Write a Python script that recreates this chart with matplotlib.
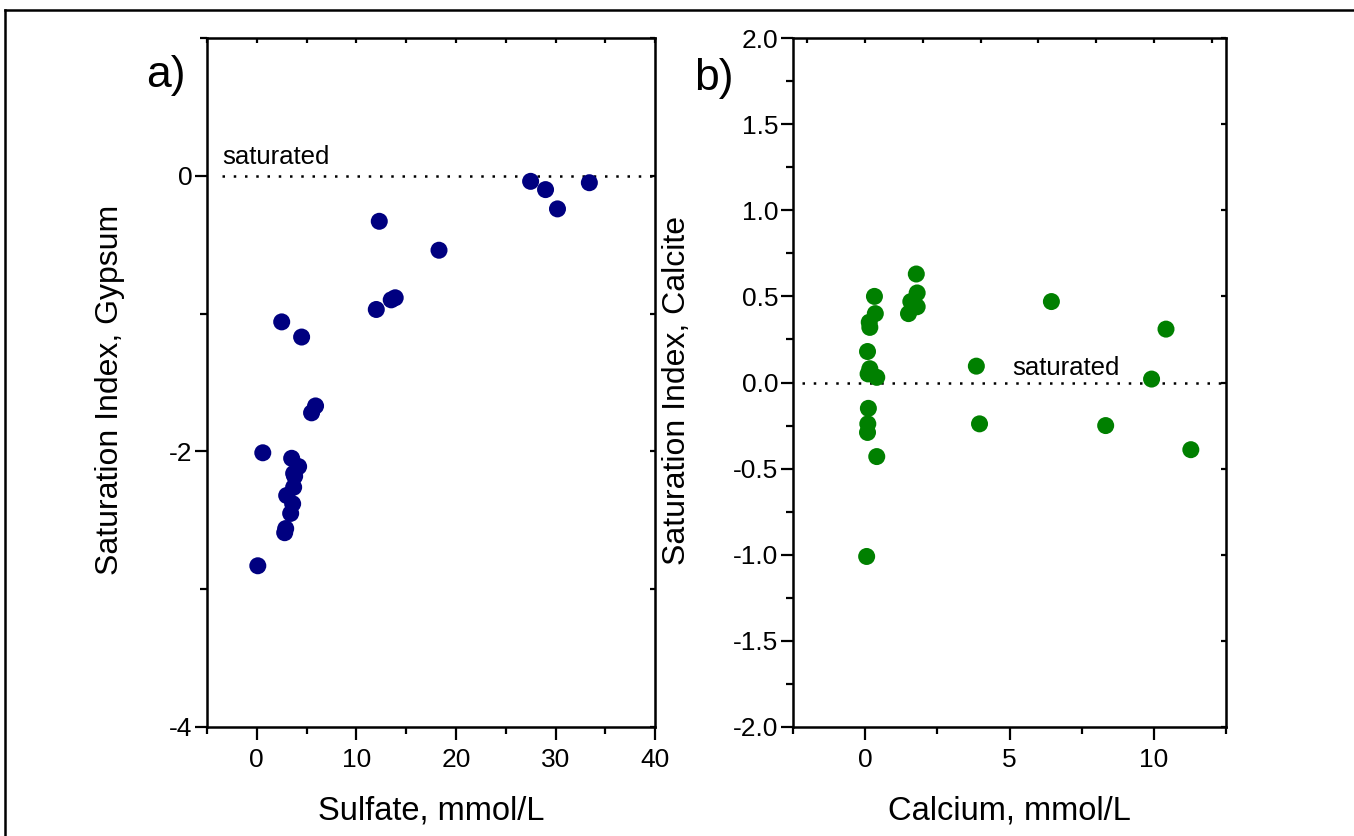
import matplotlib
matplotlib.use("Agg")
import matplotlib.pyplot as plt
from matplotlib.ticker import MultipleLocator
from matplotlib.lines import Line2D

plt.rcParams['font.family'] = ['Liberation Sans', 'DejaVu Sans']
plt.rcParams['axes.unicode_minus'] = False

# panel a) sulfate vs gypsum saturation index
sulfate = [27.5, 29.0, 30.2, 33.4, 12.3, 18.3, 12.0, 13.5, 13.9, 2.5, 4.5,
           5.9, 5.5, 0.6, 3.5, 4.2, 3.7, 3.8, 3.7, 3.0, 3.6, 3.4, 2.9, 2.8, 0.1]
si_gypsum = [-0.04, -0.10, -0.24, -0.05, -0.33, -0.54, -0.97, -0.90, -0.885,
             -1.06, -1.17, -1.67, -1.72, -2.01, -2.05, -2.11, -2.16, -2.18,
             -2.26, -2.32, -2.38, -2.45, -2.56, -2.59, -2.83]

# panel b) calcium vs calcite saturation index
calcium = [1.77, 1.80, 1.58, 1.80, 1.50, 0.32, 0.35, 0.14, 0.16, 0.08, 0.16,
           0.10, 0.40, 0.11, 0.09, 0.08, 0.40, 0.05, 6.45, 3.85, 3.96, 8.33,
           10.42, 9.92, 11.28]
si_calcite = [0.63, 0.52, 0.47, 0.44, 0.40, 0.50, 0.40, 0.35, 0.32, 0.18,
              0.08, 0.05, 0.03, -0.15, -0.24, -0.29, -0.43, -1.01, 0.47,
              0.095, -0.24, -0.25, 0.31, 0.02, -0.39]

fig = plt.figure(figsize=(13.54, 8.36), dpi=100)
ax1 = fig.add_axes([0.1529, 0.1304, 0.3309, 0.8241])
ax2 = fig.add_axes([0.5857, 0.1304, 0.3198, 0.8241])


def style(ax):
    for s in ax.spines.values():
        s.set_linewidth(1.8)
    ax.tick_params(which='both', width=1.6, labelsize=19)
    ax.tick_params(which='major', length=9)
    ax.tick_params(which='minor', length=5)
    ax.tick_params(axis='x', which='both', direction='out', top=False, pad=6)
    ax.tick_params(axis='y', which='both', direction='out', right=False, pad=1.5)
    ax.secondary_xaxis('top').tick_params(which='both', direction='in',
                                          labeltop=False, width=1.6)
    ax.secondary_yaxis('right').tick_params(which='both', direction='in',
                                            labelright=False, width=1.6)


ax1.scatter(sulfate, si_gypsum, s=150, color='#000080', edgecolors='none', zorder=3)
ax1.plot([-3.5, 40], [0, 0], color='black', lw=1.8, linestyle=(0, (1, 3.5)))
ax1.text(-3.5, 0.05, 'saturated', fontsize=18.5, ha='left', va='bottom')
ax1.set_xlim(-5, 40)
ax1.set_ylim(-4, 1)
ax1.xaxis.set_major_locator(MultipleLocator(10))
ax1.xaxis.set_minor_locator(MultipleLocator(5))
ax1.yaxis.set_major_locator(MultipleLocator(2))
ax1.yaxis.set_minor_locator(MultipleLocator(1))
ax1.set_xlabel('Sulfate, mmol/L', fontsize=23.5)
ax1.set_ylabel('Saturation Index, Gypsum', fontsize=23)
ax1.xaxis.set_label_coords(0.5, -0.1)
ax1.yaxis.set_label_coords(-0.183, 0.489)

ax2.scatter(calcium, si_calcite, s=150, color='#008000', edgecolors='none', zorder=3)
ax2.plot([-2.2, 12.5], [0, 0], color='black', lw=1.8, linestyle=(0, (1, 3.5)))
ax2.text(5.1, 0.015, 'saturated', fontsize=18.5, ha='left', va='bottom')
ax2.set_xlim(-2.5, 12.5)
ax2.set_ylim(-2, 2)
ax2.xaxis.set_major_locator(MultipleLocator(5))
ax2.xaxis.set_minor_locator(MultipleLocator(2.5))
ax2.yaxis.set_major_locator(MultipleLocator(0.5))
ax2.yaxis.set_minor_locator(MultipleLocator(0.25))
ax2.yaxis.set_major_formatter('{x:.1f}')
ax2.set_xlabel('Calcium, mmol/L', fontsize=23.5)
ax2.set_ylabel('Saturation Index, Calcite', fontsize=23)
ax2.xaxis.set_label_coords(0.5, -0.1)
ax2.yaxis.set_label_coords(-0.233, 0.489)

for ax in (ax1, ax2):
    style(ax)

fig.text(0.108, 0.910, 'a)', fontsize=32, ha='left', va='center')
fig.text(0.513, 0.906, 'b)', fontsize=32, ha='left', va='center')

# outer frame (top and left edges visible)
fig.add_artist(Line2D([5 / 1354, 1], [1 - 10 / 836, 1 - 10 / 836],
                      transform=fig.transFigure, color='black', lw=1.8))
fig.add_artist(Line2D([5 / 1354, 5 / 1354], [0, 1 - 10 / 836],
                      transform=fig.transFigure, color='black', lw=1.8))

fig.savefig('out.png', dpi=100)
